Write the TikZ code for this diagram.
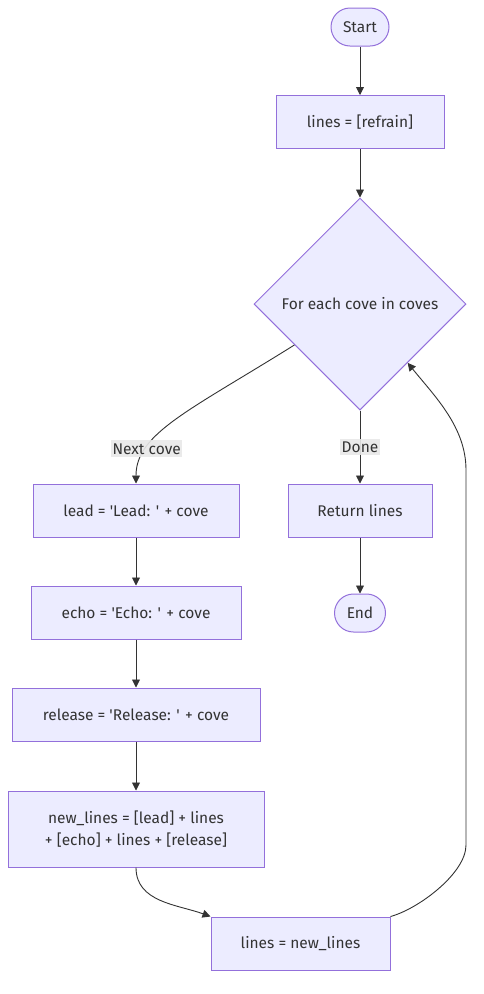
\documentclass[tikz,border=0pt]{standalone}
\usepackage{fontspec}
\setmainfont{Fira Sans}
\usetikzlibrary{shapes.geometric,arrows.meta}
\definecolor{boxfill}{HTML}{ECECFF}
\definecolor{boxline}{HTML}{9370DB}
\definecolor{edgeline}{HTML}{333333}
\definecolor{lblfill}{HTML}{E8E8E8}
\definecolor{txt}{HTML}{333333}
\newcommand{\q}{\textquotesingle}
\begin{document}
\begin{tikzpicture}[x=1pt,y=1pt,thick,
    every node/.style={font=\fontsize{15.5}{22}\selectfont,text=txt},
    box node/.style={rectangle,draw=boxline,fill=boxfill,line width=1pt,minimum height=53pt,inner sep=0pt,align=center},
    term node/.style={box node,rounded corners=19pt,minimum height=38pt},
    choice node/.style={diamond,draw=boxline,fill=boxfill,line width=1pt,minimum width=212pt,minimum height=212pt,inner sep=0pt},
    lbl node/.style={fill=lblfill,fill opacity=0.9,text opacity=1,inner xsep=1.5pt,inner ysep=3pt},
    flow/.style={draw=edgeline,line width=0.9pt},
    every edge/.style={flow},
    >={Triangle[length=8pt,width=8pt]}]
                \useasboundingbox (0,0) rectangle (483,-994);
                \node[term node,minimum width=58pt] at (360,-27) (start) {Start};
                \node[box node,minimum width=168pt] at (360,-122) (init) {lines = [refrain]};
                \node[choice node] at (360,-304) (loop) {For each cove in coves};
                \node[box node,minimum width=206pt] at (136,-510.5) (lead) {lead = \q Lead: \q{} + cove};
                \node[box node,minimum width=144pt] at (360,-510.5) (ret) {Return lines};
                \node[term node,minimum width=51pt] at (360,-613) (stop) {End};
                \node[box node,minimum width=210pt] at (136,-612.5) (echo) {echo = \q Echo: \q{} + cove};
                \node[box node,minimum width=248pt] at (136,-714.5) (rel) {release = \q Release: \q{} + cove};
                \node[box node,minimum width=256pt,minimum height=76pt] at (136,-829) (merge) {new\_lines = [lead] + lines\\+ [echo] + lines + [release]};
                \node[box node,minimum width=179pt] at (300.5,-943.5) (upd) {lines = new\_lines};
                \coordinate (turn) at (466,-845);
                \coordinate (rise) at (466,-470);

                \path[->] (start) edge[] (init);
                \path[->] (init) edge[] (loop);
                \draw[flow,->] (loop.212) .. controls +(212:125) and +(90:50) .. node [lbl node,pos=0.74] {Next cove} (lead.north);
                \path[->] (loop) edge[] node [lbl node,pos=0.5] {Done} (ret);
                \path[->] (ret) edge[] (stop);
                \path[->] (lead) edge[] (echo);
                \path[->] (echo) edge[] (rel);
                \path[->] (rel) edge[] (merge);
                \path[->] (merge) edge[out=-90,in=160] (upd.north west);
                \draw[flow,->] (upd.north east) to[out=15,in=-90,looseness=0.7] (turn) -- (rise) to[out=90,in=-51,looseness=0.9] (loop.-51);
            \end{tikzpicture}
\end{document}
